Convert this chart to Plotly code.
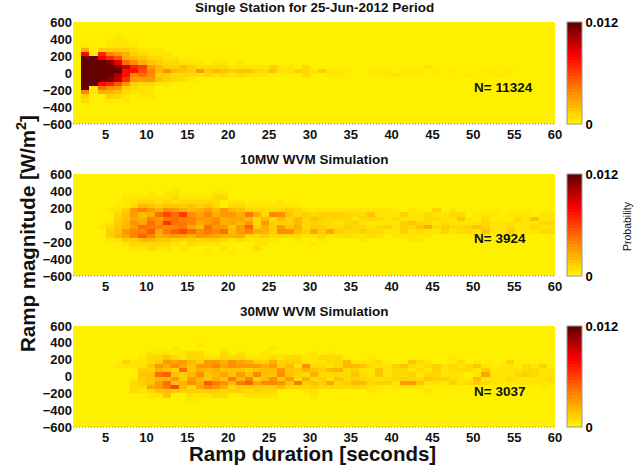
import numpy as np
import plotly.graph_objects as go

X_EDGES = list(range(1, 61))
Y_EDGES = list(range(-600, 601, 50))
UNIT = 1e-4

TITLES = ["Single Station for 25-Jun-2012 Period", "10MW WVM Simulation", "30MW WVM Simulation"]
COUNTS = ["N= 11324", "N= 3924", "N= 3037"]
X_TICKS = list(range(5, 61, 5))
Y_TICKS = [-600, -400, -200, 0, 200, 400, 600]

# Each entry: ramp magnitude bin -> list of (first duration bin, values)
station = {
    425: [(6, [4])],
    375: [(5, [4, 6, 4])],
    325: [(2, [4, 0, 0, 6, 6, 5, 4])],
    275: [(2, [25, 0, 12, 14, 14, 14, 8, 4, 4, 4])],
    225: [(2, [75, 4, 70, 40, 30, 25, 14, 10, 6, 6, 4])],
    175: [(2, [120, 120, 80, 65, 55, 25, 20, 16, 10, 9, 6, 4])],
    125: [(2, [120, 120, 120, 110, 85, 45, 35, 25, 15, 12, 9, 8, 4, 4, 4, 0, 4, 4, 0, 4])],
    75: [(2, [120, 120, 120, 120, 110, 90, 70, 60, 30, 20, 14, 14, 22, 12, 10, 8, 8, 8, 5, 6, 6, 6, 6, 12, 6, 6, 0, 8]), (44, [4])],
    25: [(2, [120, 120, 120, 120, 120, 75, 75, 55, 40, 20, 35, 22, 15, 14, 32, 14, 22, 16, 14, 18, 18, 10, 10, 18, 6, 6, 12, 8, 4, 14, 6, 6, 6, 0, 0, 5, 5, 5, 0, 6, 4, 4, 0, 4, 0, 4, 0, 0, 0, 5, 5, 0, 6])],
    -25: [(2, [120, 120, 120, 120, 100, 78, 38, 45, 35, 14, 12, 10, 10, 8, 6, 8, 5, 8, 4, 8, 5, 5, 5, 0, 0, 0, 0, 8, 0, 0, 6, 6, 0, 0, 0, 0, 0, 5, 5]), (49, [4]), (53, [4])],
    -75: [(2, [120, 120, 120, 110, 95, 65, 32, 30, 30, 16, 12, 10, 8, 6])],
    -125: [(2, [120, 120, 78, 70, 55, 30, 14, 10, 8, 6, 4])],
    -175: [(2, [120, 4, 45, 35, 30, 14, 9, 6, 4])],
    -225: [(2, [40, 4, 25, 22, 18, 8, 6, 6, 6])],
    -275: [(2, [12, 0, 0, 14, 8, 6, 0, 6, 4])],
    -325: [(2, [8, 0, 0, 0, 0, 5])],
    -575: [(2, [3])],
}

wvm10 = {
    425: [(13, [4])],
    375: [(10, [4, 0, 4, 4]), (18, [5, 5])],
    325: [(7, [4, 4, 6, 6, 4, 6, 10, 4, 4, 4, 6, 8, 8])],
    275: [(7, [6, 6, 8, 8, 6, 8, 6, 8, 8, 8, 8, 8, 3, 6, 6]), (26, [6])],
    225: [(6, [4, 6, 8, 22, 16, 12, 18, 15, 12, 18, 14, 18, 10, 2, 8, 10, 6, 4, 4, 4, 6, 6, 4])],
    175: [(5, [4, 4, 14, 30, 38, 30, 25, 35, 30, 25, 20, 25, 28, 22, 30, 22, 18, 10, 10, 8, 8, 10, 12, 8, 4, 6, 6, 4, 4, 4, 4, 4, 4, 4, 4, 0, 0, 4, 0, 0, 12, 0, 4]),],
    125: [(6, [10, 18, 30, 22, 25, 48, 58, 48, 60, 35, 28, 38, 25, 32, 32, 25, 42, 25, 10, 40, 35, 15, 10, 14, 10, 12, 12, 12, 8, 8, 10, 16, 6, 4, 4, 14, 6, 6, 8, 6, 6, 8, 8, 2, 6, 6, 6, 2, 6, 6, 6, 2, 6, 6])],
    75: [(6, [14, 18, 28, 24, 40, 30, 42, 45, 38, 40, 32, 30, 35, 25, 28, 28, 22, 8, 22, 10, 22, 12, 20, 10, 18, 12, 8, 8, 10, 6, 8, 8, 8, 6, 10, 6, 4, 6, 8, 10, 4, 4, 16, 4, 2, 8, 2, 6, 2, 8, 4, 16, 4, 4, 8])],
    25: [(5, [6, 14, 20, 35, 28, 45, 35, 65, 48, 42, 38, 28, 30, 38, 25, 28, 22, 30, 8, 30, 12, 14, 14, 22, 10, 14, 10, 8, 6, 8, 12, 6, 6, 6, 6, 4, 12, 16, 10, 10, 6, 8, 6, 6, 6, 6, 8, 4, 4, 6, 6, 6, 6, 8, 8, 8])],
    -25: [(4, [4, 8, 16, 22, 30, 48, 42, 38, 35, 38, 42, 28, 22, 45, 32, 32, 18, 30, 50, 14, 25, 12, 30, 16, 25, 10, 14, 12, 10, 10, 12, 10, 8, 6, 8, 14, 6, 14, 10, 16, 25, 8, 14, 8, 8, 12, 16, 14, 6, 6, 8, 4, 4, 8, 6, 4, 8])],
    -75: [(5, [14, 16, 30, 40, 40, 52, 28, 42, 52, 58, 45, 35, 42, 40, 48, 22, 30, 38, 25, 25, 14, 35, 35, 22, 14, 28, 14, 28, 14, 10, 8, 14, 8, 8, 4, 4, 12, 6, 8, 6, 6, 14, 6, 8, 8, 6, 18, 6, 4, 14, 4, 4, 4, 8, 8, 8])],
    -125: [(5, [14, 22, 28, 40, 52, 40, 25, 28, 30, 28, 25, 30, 30, 28, 25, 25, 25, 10, 10, 14, 10, 10, 10, 10, 4, 6, 8, 6, 6, 8, 4, 4, 8, 4, 0, 4, 4, 4, 6, 6]), (50, [8])],
    -175: [(5, [6, 6, 14, 14, 20, 22, 16, 16, 12, 10, 12, 10, 12, 12, 8, 6, 8, 4, 4, 4, 6, 0, 0, 4, 0, 0, 5]), (36, [6]), (42, [6, 6])],
    -225: [(7, [6, 10, 8, 10, 10, 10, 4, 0, 8, 4, 6, 4]), (23, [6, 6]), (30, [5])],
    -275: [(8, [6, 6, 8, 4, 6, 0, 6]), (19, [5]), (23, [8])],
    -325: [(17, [5, 0, 0, 6])],
}

wvm30 = {
    375: [(16, [6])],
    325: [(13, [6]), (19, [5]), (25, [6])],
    275: [(10, [5, 5, 6, 3, 4, 8, 8, 0, 0, 10, 0, 4, 0, 0, 6, 3]), (30, [5, 0, 6])],
    225: [(9, [6, 8, 10, 16, 8, 6, 10, 10, 4, 4, 10, 8, 8, 6, 6, 6, 10, 4, 10, 8, 6, 6, 8, 8, 8]), (37, [6]), (47, [6])],
    175: [(7, [14, 6, 6, 10, 14, 30, 28, 30, 20, 14, 32, 30, 25, 35, 28, 25, 14, 14, 25, 12, 14, 12, 4, 4, 6, 10, 10, 22, 4, 6, 6, 8, 0, 0, 0, 16, 10, 4, 0, 0, 0, 8, 0, 4, 0, 0, 0, 14])],
    125: [(6, [6, 6, 4, 6, 18, 30, 25, 35, 28, 18, 30, 30, 40, 28, 35, 32, 30, 30, 25, 30, 14, 20, 4, 35, 8, 10, 6, 8, 20, 20, 16, 10, 4, 4, 14, 16, 10, 4, 10, 12, 6, 8, 6, 8, 16, 4, 0, 6, 4, 0, 10, 4, 14])],
    75: [(9, [14, 14, 25, 18, 14, 48, 18, 25, 20, 25, 18, 15, 18, 12, 18, 22, 22, 32, 16, 14, 25, 16, 12, 22, 25, 8, 14, 6, 6, 18, 4, 8, 10, 6, 8, 4, 12, 6, 10, 10, 8, 4, 12, 6, 6, 6, 6, 8, 10, 6, 6])],
    25: [(9, [16, 16, 48, 50, 18, 14, 22, 35, 18, 22, 28, 15, 30, 18, 40, 18, 18, 35, 18, 14, 10, 25, 10, 10, 8, 8, 16, 10, 6, 18, 4, 8, 8, 14, 6, 8, 10, 4, 6, 4, 0, 4, 28, 4, 6, 6, 8, 14, 10, 4, 6, 12])],
    -25: [(8, [4, 14, 18, 20, 22, 30, 12, 32, 22, 18, 25, 15, 42, 22, 40, 14, 22, 35, 14, 30, 10, 25, 10, 14, 6, 18, 10, 12, 10, 10, 6, 8, 8, 12, 10, 8, 18, 12, 12, 8, 6, 6, 22, 6, 4, 6, 10, 6, 6, 4, 6, 8])],
    -75: [(8, [10, 14, 16, 30, 45, 18, 25, 35, 25, 55, 42, 35, 22, 42, 52, 28, 38, 38, 35, 16, 42, 14, 18, 12, 28, 10, 12, 22, 22, 10, 14, 12, 4, 30, 32, 16, 4, 6, 4, 12, 4, 8, 12, 8, 6, 4, 4, 6, 4, 6, 4, 6, 20])],
    -125: [(8, [10, 8, 28, 30, 42, 58, 20, 10, 28, 38, 30, 25, 8, 14, 14, 14, 14, 14, 20, 10, 10, 8, 14, 8, 8, 8, 8, 8, 8, 4, 4, 0, 4, 4, 4, 6]), (58, [4])],
    -175: [(8, [8, 6, 8, 16, 16, 12, 14, 14, 14, 14, 14, 8, 12, 14, 8, 12, 8, 8, 0, 0, 0, 6, 6]), (37, [6]), (44, [5])],
    -225: [(10, [5, 5, 18, 0, 0, 6, 6, 6, 8, 8, 2, 0, 6, 6, 6, 6]), (30, [6])],
    -275: [(15, [6])],
}

PANELS = [station, wvm10, wvm30]


def to_grid(rows):
    grid = np.zeros((len(Y_EDGES) - 1, len(X_EDGES) - 1))
    for y, segments in rows.items():
        r = (y + 600) // 50
        for first, values in segments:
            c = first - 1
            n = min(len(values), grid.shape[1] - c)
            grid[r, c:c + n] = values[:n]
    return grid * UNIT


# stepped yellow-orange-red-maroon colour map
anchors = [(0.0, (255, 240, 0)), (0.33, (255, 130, 0)), (0.67, (255, 0, 0)), (1.0, (100, 0, 0))]
levels = 32
scale = []
for i in range(levels):
    t = i / (levels - 1)
    rgb = [np.interp(t, [a[0] for a in anchors], [a[1][k] for a in anchors]) for k in range(3)]
    col = "rgb(%d,%d,%d)" % tuple(rgb)
    scale += [[i / levels, col], [(i + 1) / levels, col]]

W, H = 642, 469
L, R = 73, 555
TOPS = [(22, 124), (174, 276), (326, 427)]
FONT = "Liberation Sans"

fig = go.Figure()
layout = {}
for i, (rows, (top, bot)) in enumerate(zip(PANELS, TOPS)):
    suffix = "" if i == 0 else str(i + 1)
    fig.add_trace(go.Heatmap(
        x=X_EDGES, y=Y_EDGES, z=to_grid(rows), zmin=0, zmax=0.012, zsmooth=False,
        xaxis="x" + suffix, yaxis="y" + suffix, colorscale=scale, hoverinfo="skip",
        colorbar=dict(
            x=567 / W, xanchor="left", xref="paper", y=1 - top / H, yanchor="top", yref="paper",
            len=(bot - top) / H, lenmode="fraction", thickness=15, thicknessmode="pixels",
            xpad=0, ypad=0, tickvals=[0, 0.012], ticktext=["0", "0.012"], ticks="",
            outlinecolor="#9a9a9a", outlinewidth=1, borderwidth=0,
            tickfont=dict(family=FONT, size=13, color="black", weight=700), ticklabelposition="outside",
        ),
    ))
    layout["xaxis" + suffix] = dict(
        domain=[L / W, R / W], range=[1, 60], anchor="y" + suffix, tickvals=X_TICKS, ticks="", showgrid=False,
        zeroline=False, showline=False, ticklabelstandoff=1,
        tickfont=dict(family=FONT, size=13, color="#111", weight=700),
    )
    layout["yaxis" + suffix] = dict(
        domain=[1 - bot / H, 1 - top / H], range=[-600, 600], anchor="x" + suffix, tickvals=Y_TICKS, ticks="",
        showgrid=False, zeroline=False, showline=False,
        tickfont=dict(family=FONT, size=13, color="#111", weight=700),
    )

ann = []
for title, (top, bot) in zip(TITLES, TOPS):
    ann.append(dict(text=title, x=314 / W, y=1 - (top - 15) / H, xref="paper", yref="paper", showarrow=False,
                    xanchor="center", yanchor="middle",
                    font=dict(family=FONT, size=13.5, color="#111", weight=700)))
for n, (top, bot) in zip(COUNTS, TOPS):
    ann.append(dict(text=n, x=472 / W, y=1 - (top + 65) / H, xref="paper", yref="paper", showarrow=False,
                    xanchor="left", yanchor="middle",
                    font=dict(family=FONT, size=13.5, color="#111", weight=700)))
ann.append(dict(text="Ramp duration [seconds]", x=312 / W, y=1 - 453 / H, xref="paper", yref="paper", showarrow=False,
                xanchor="center", yanchor="middle",
                font=dict(family=FONT, size=20.5, color="#111", weight=700)))
ann.append(dict(text="Ramp magnitude [W/m<sup>2</sup>]", x=26 / W, y=1 - 234 / H, xref="paper", yref="paper",
                showarrow=False, textangle=-90, xanchor="center", yanchor="middle",
                font=dict(family=FONT, size=20.5, color="#111", weight=700)))
ann.append(dict(text="Probability", x=627 / W, y=1 - 226 / H, xref="paper", yref="paper", showarrow=False,
                textangle=-90, xanchor="center", yanchor="middle", font=dict(family=FONT, size=10.5, color="#111")))

shapes = [dict(type="line", xref="paper", yref="paper", x0=L / W, x1=R / W, y0=1 - bot / H, y1=1 - bot / H,
               line=dict(color="#777", width=1, dash="1px,2px")) for top, bot in TOPS]

fig.update_layout(width=W, height=H, margin=dict(l=0, r=0, t=0, b=0, autoexpand=False), paper_bgcolor="white", plot_bgcolor="white",
                  annotations=ann, shapes=shapes, **layout)
fig.write_html("out.html", config={"displayModeBar": False},
               post_script="document.body.style.margin='0';document.documentElement.style.overflow='hidden';")
